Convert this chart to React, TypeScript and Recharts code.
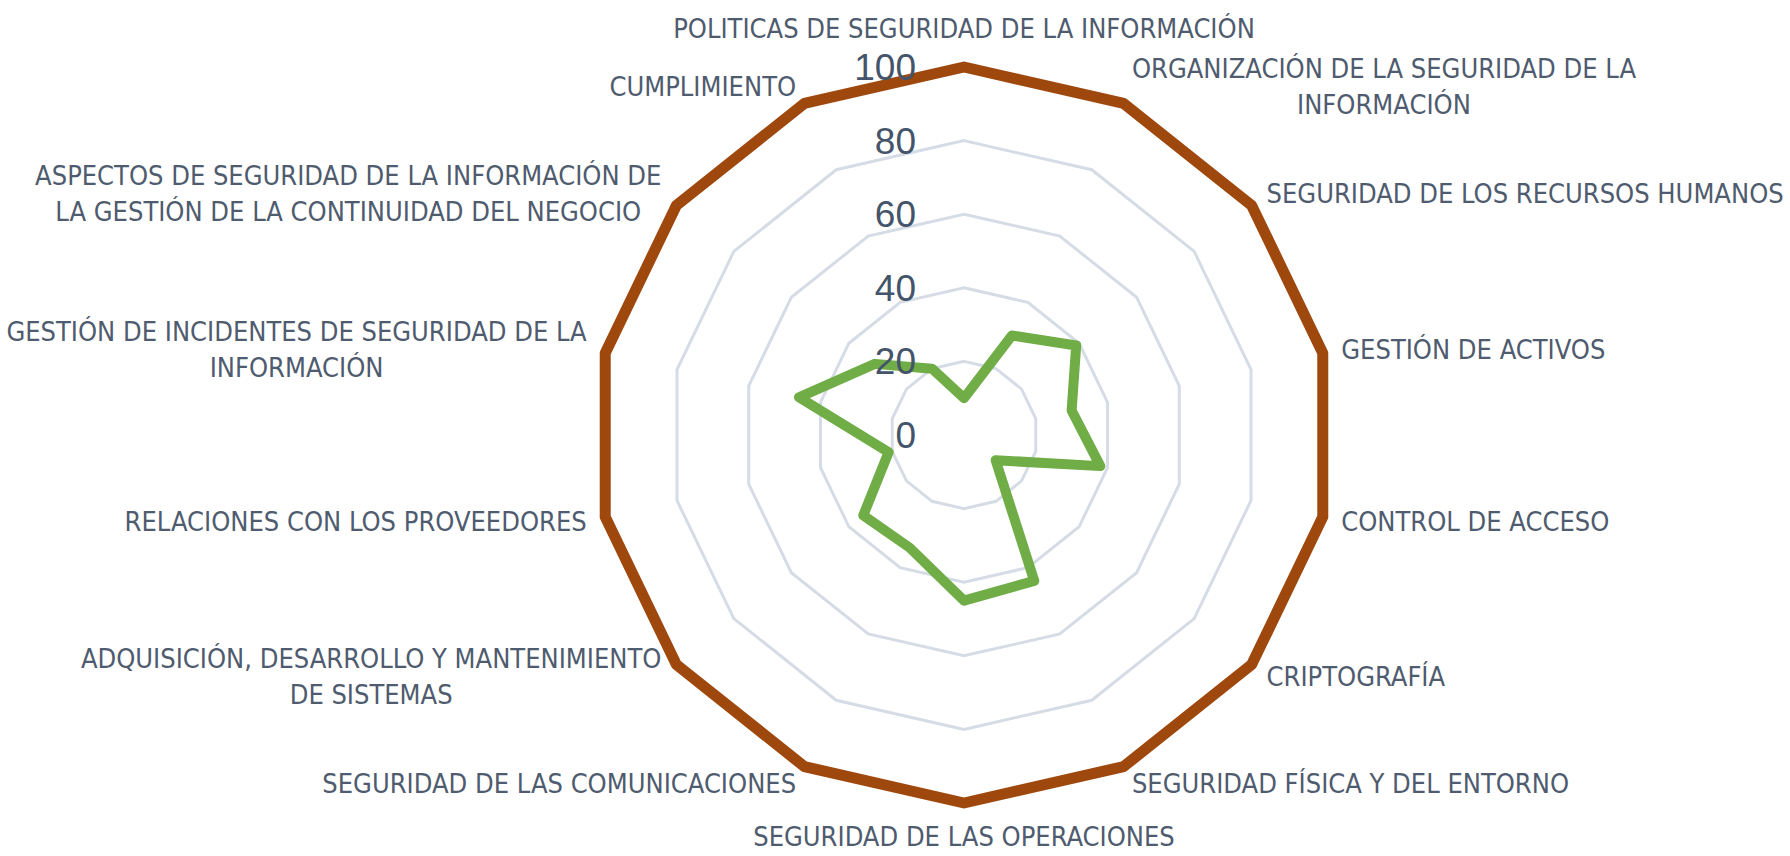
import React from 'react';
import {
  RadarChart,
  PolarGrid,
  PolarAngleAxis,
  PolarRadiusAxis,
  Radar,
} from 'recharts';

// categories, clockwise from the top ("\n" = where the original label wraps)
const categories = [
  'POLITICAS DE SEGURIDAD DE LA INFORMACIÓN',
  'ORGANIZACIÓN DE LA SEGURIDAD DE LA\nINFORMACIÓN',
  'SEGURIDAD DE LOS RECURSOS HUMANOS',
  'GESTIÓN DE ACTIVOS',
  'CONTROL DE ACCESO',
  'CRIPTOGRAFÍA',
  'SEGURIDAD FÍSICA Y DEL ENTORNO',
  'SEGURIDAD DE LAS OPERACIONES',
  'SEGURIDAD DE LAS COMUNICACIONES',
  'ADQUISICIÓN, DESARROLLO Y MANTENIMIENTO\nDE SISTEMAS',
  'RELACIONES CON LOS PROVEEDORES',
  'GESTIÓN DE INCIDENTES DE SEGURIDAD DE LA\nINFORMACIÓN',
  'ASPECTOS DE SEGURIDAD DE LA INFORMACIÓN DE\nLA GESTIÓN DE LA CONTINUIDAD DEL NEGOCIO',
  'CUMPLIMIENTO',
];

const target = [100, 100, 100, 100, 100, 100, 100, 100, 100, 100, 100, 100, 100, 100];
const current = [10, 30, 39, 30, 38, 11, 44, 45, 34, 35, 21, 46, 31, 20];

const radiusTicks = [0, 20, 40, 60, 80, 100];

const data = categories.map((name, i) => ({
  name,
  objetivo: target[i],
  actual: current[i],
}));

const W = 1790;
const H = 856;
const CX = 964;
const CY = 435;
const OUTER_R = 368;
const LABEL_GAP = 19;

const LABEL_FONT = '"Liberation Sans Narrow", "Arial Narrow", "DejaVu Sans Condensed", sans-serif';
const LABEL_SIZE = 27;
const LINE_H = 36;
const LABEL_COLOR = '#4F5B6E';

let measureCtx: CanvasRenderingContext2D | null = null;
function textWidth(s: string) {
  if (!measureCtx) measureCtx = document.createElement('canvas').getContext('2d');
  if (!measureCtx) return s.length * LABEL_SIZE * 0.5;
  measureCtx.font = `${LABEL_SIZE}px ${LABEL_FONT}`;
  return measureCtx.measureText(s).width;
}

const AngleTick = (props: any) => {
  const { x, y, payload } = props;
  const dx = x - CX;
  const dy = y - CY;
  const len = Math.hypot(dx, dy) || 1;
  const ux = dx / len;
  const uy = dy / len;
  const r = OUTER_R + LABEL_GAP;
  const ax = CX + ux * r;
  let ay = CY + uy * r;

  const lines = String(payload.value).split('\n');
  const w = Math.max(...lines.map(textWidth));
  let midX = ax;
  if (ux > 0.1) midX = ax + w / 2;
  else if (ux < -0.1) midX = ax - w / 2;
  else ay += uy * (uy < 0 ? 20 : 14); // top / bottom labels sit a bit further out

  const first = ay - ((lines.length - 1) * LINE_H) / 2;
  return (
    <text
      textAnchor="middle"
      fill={LABEL_COLOR}
      fontSize={LABEL_SIZE}
      fontFamily={LABEL_FONT}
    >
      {lines.map((l, i) => (
        <tspan key={i} x={midX} y={first + i * LINE_H + LABEL_SIZE * 0.36}>
          {l}
        </tspan>
      ))}
    </text>
  );
};

const RadiusTick = (props: any) => {
  const { x, y, payload } = props;
  return (
    <text
      x={x - 48}
      y={y + 13}
      textAnchor="end"
      fontSize={37}
      fill="#44546A"
      fontFamily='"Liberation Sans", Arial, sans-serif'
    >
      {payload.value}
    </text>
  );
};

export default function App() {
  return (
    <div style={{ position: 'absolute', left: 0, top: 0, width: W, height: H, background: '#ffffff' }}>
      <RadarChart
        width={W}
        height={H}
        data={data}
        cx={CX}
        cy={CY}
        outerRadius={OUTER_R}
        margin={{ top: 0, right: 0, bottom: 0, left: 0 }}
      >
        <PolarGrid gridType="polygon" radialLines={false} stroke="#D6DCE5" strokeWidth={3} />
        <PolarAngleAxis dataKey="name" tick={AngleTick} axisLine={false} tickLine={false} />
        <Radar
          dataKey="objetivo"
          stroke="#9E480E"
          strokeWidth={11}
          strokeLinejoin="round"
          fill="none"
          fillOpacity={0}
          dot={false}
          isAnimationActive={false}
        />
        <Radar
          dataKey="actual"
          stroke="#70AD47"
          strokeWidth={10}
          strokeLinejoin="round"
          fill="none"
          fillOpacity={0}
          dot={false}
          isAnimationActive={false}
        />
        <PolarRadiusAxis
          angle={90}
          domain={[0, 100]}
          ticks={radiusTicks as any}
          tickCount={6}
          axisLine={false}
          tickLine={false}
          tick={RadiusTick}
        />
      </RadarChart>
    </div>
  );
}
